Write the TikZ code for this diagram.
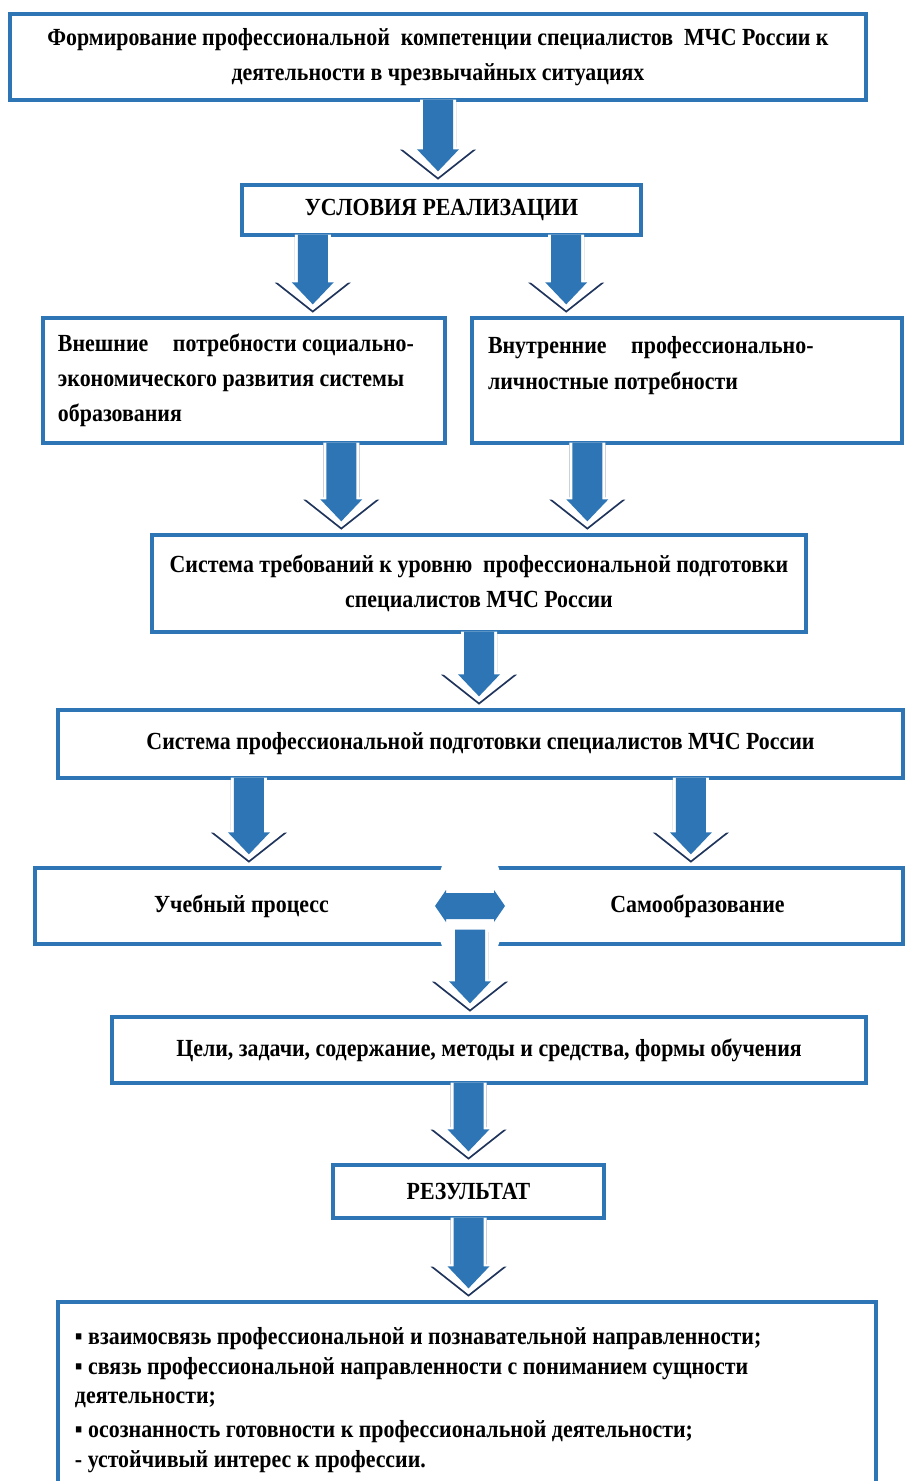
\documentclass[tikz,border=0pt]{standalone}
\usepackage{fontspec}
\setmainfont{Liberation Serif}[FakeStretch=0.89]
\usetikzlibrary{calc}
\definecolor{boxblue}{RGB}{46,117,182}
\definecolor{arrblue}{RGB}{46,117,182}
\definecolor{arrnavy}{RGB}{31,52,92}

\tikzset{
  box/.style={draw=boxblue, line width=1mm, fill=white, inner sep=0pt,
    align=center, font=\bfseries\fontsize{21}{30}\selectfont},
  lbox/.style={box, align=flush left},
  arrshadow/.style={fill=arrnavy},
  arrhalo/.style={fill=white},
  arrfill/.style={fill=arrblue}
}

% block arrow pointing down from one box to the next
\newcommand\flowarrow[2]{%
  \foreach \st/\dy/\sw/\hw/\hb/\tp in
    {arrshadow/0.7mm/5.4mm/11.4mm/10.8mm/1.8mm,
     arrhalo/0mm/5.4mm/11.4mm/10.8mm/1.8mm,
     arrfill/0mm/4.5mm/6.3mm/10.2mm/3.6mm}
    \path[\st] let \p1=#1, \p2=#2 in
      (\x1-\sw,\y1+0.6mm-\dy) -- (\x1+\sw,\y1+0.6mm-\dy)
      -- (\x1+\sw,\y2+\hb-\dy) -- (\x1+\hw,\y2+\hb-\dy)
      -- (\x1,\y2+\tp-\dy) -- (\x1-\hw,\y2+\hb-\dy)
      -- (\x1-\sw,\y2+\hb-\dy) -- cycle;
}

% two-headed block arrow between two boxes side by side
\newcommand\twinarrow[2]{%
  \path[arrhalo] let \p1=($#1!0.5!#2$) in
    (\x1-12.6mm,\y1) -- (\x1-8.4mm,\y1+12mm) -- (\x1+8.4mm,\y1+12mm)
    -- (\x1+12.6mm,\y1) -- (\x1+8.4mm,\y1-12mm) -- (\x1-8.4mm,\y1-12mm) -- cycle;
  \path[arrfill] let \p1=($#1!0.5!#2$) in
    (\x1-10.5mm,\y1) -- (\x1-7.2mm,\y1+4.8mm) -- (\x1-7.2mm,\y1+3.9mm)
    -- (\x1+7.2mm,\y1+3.9mm) -- (\x1+7.2mm,\y1+4.8mm) -- (\x1+10.5mm,\y1)
    -- (\x1+7.2mm,\y1-4.8mm) -- (\x1+7.2mm,\y1-3.9mm) -- (\x1-7.2mm,\y1-3.9mm)
    -- (\x1-7.2mm,\y1-4.8mm) -- cycle;
}

\begin{document}
\begin{tikzpicture}[x=0.3mm,y=-0.3mm]
\useasboundingbox (0,0) rectangle (904,1481);

\node[box, minimum width=256.8mm, minimum height=25.8mm] (goal) at (438,57)
  {Формирование профессиональной\ \ компетенции специалистов\ \ МЧС России к\\
   деятельности в чрезвычайных ситуациях};
\node[box, minimum width=119.7mm, minimum height=15mm] (cond) at (441.5,210)
  {УСЛОВИЯ РЕАЛИЗАЦИИ};
\node[lbox, minimum width=120.6mm, minimum height=37.5mm, text width=111.6mm]
  (ext) at (244,380.5)
  {Внешние\quad потребности социально-\\
   экономического развития системы\\
   образования};
\node[lbox, minimum width=129mm, minimum height=37.5mm, text width=119.4mm]
  (int) at (687,380.5)
  {Внутренние\quad профессионально-\\
   личностные потребности\\ \mbox{}};
\node[box, minimum width=196.2mm, minimum height=29.1mm] (req) at (479,583.5)
  {Система требований к уровню\ \ профессиональной подготовки\\
   специалистов МЧС России};
\node[box, minimum width=253.5mm, minimum height=20.4mm] (sys) at (480.5,744)
  {Система профессиональной подготовки специалистов МЧС России};
\node[box, minimum width=123.9mm, minimum height=22.8mm] (learn) at (241.5,906)
  {Учебный процесс};
\node[box, minimum width=123.3mm, minimum height=22.8mm] (self) at (697.5,906)
  {Самообразование};
\node[box, minimum width=226.2mm, minimum height=19.8mm] (aims) at (489,1050)
  {Цели, задачи, содержание, методы и средства, формы обучения};
\node[box, minimum width=81.3mm, minimum height=15.9mm] (res) at (468.5,1191.5)
  {РЕЗУЛЬТАТ};
\node[lbox, minimum width=245.4mm, minimum height=58.8mm, text width=235.2mm,
  font=\bfseries\fontsize{21}{25.5}\selectfont] (out) at (467,1400)
  {▪ взаимосвязь профессиональной и познавательной направленности;\\
   ▪ связь профессиональной направленности с пониманием сущности\\
   деятельности;\\[1.2mm]
   ▪ осознанность готовности к профессиональной деятельности;\\
   - устойчивый интерес к профессии.};

\flowarrow{(goal.south)}{(cond.north)}
\flowarrow{($(cond.south west)!0.18!(cond.south east)$)}{(ext.north)}
\flowarrow{($(cond.south west)!0.81!(cond.south east)$)}{(int.north)}
\flowarrow{($(ext.south west)!0.74!(ext.south east)$)}{(req.north)}
\flowarrow{($(int.south west)!0.27!(int.south east)$)}{(req.north)}
\flowarrow{(req.south)}{(sys.north)}
\flowarrow{($(sys.south west)!0.227!(sys.south east)$)}{(learn.north)}
\flowarrow{($(sys.south west)!0.748!(sys.south east)$)}{(self.north)}
\twinarrow{(learn.east)}{(self.west)}
\flowarrow{($(learn.south east)!0.5!(self.south west)+(0,4.2mm)$)}{(aims.north)}
\flowarrow{(aims.south -| res.north)}{(res.north)}
\flowarrow{(res.south)}{(out.north)}
\end{tikzpicture}
\end{document}
